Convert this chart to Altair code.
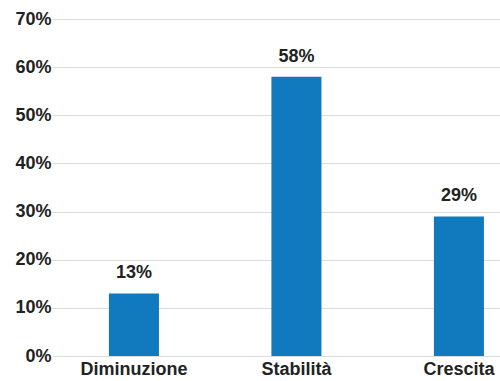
import altair as alt
import pandas as pd

# Share of responses per outlook category
categories = ["Diminuzione", "Stabilità", "Crescita"]
shares = [0.13, 0.58, 0.29]

df = pd.DataFrame({"categoria": categories, "quota": shares})

FONT = "Liberation Sans"
BAR_COLOR = "#117abf"
TEXT_COLOR = "#222222"
FONT_SIZE = 18

x = alt.X(
    "categoria:N",
    sort=categories,
    title=None,
    scale=alt.Scale(paddingInner=0.692, paddingOuter=0.2245, align=0.78),
    axis=alt.Axis(
        labelAngle=0,
        labelFont=FONT,
        labelFontSize=FONT_SIZE,
        labelFontWeight="bold",
        labelColor=TEXT_COLOR,
        labelPadding=4,
        domain=False,
        ticks=False,
        grid=False,
    ),
)

y = alt.Y(
    "quota:Q",
    title=None,
    scale=alt.Scale(domain=[0, 0.7], nice=False),
    axis=alt.Axis(
        values=[0, 0.1, 0.2, 0.3, 0.4, 0.5, 0.6, 0.7],
        format=".0%",
        labelFont=FONT,
        labelFontSize=FONT_SIZE,
        labelFontWeight="bold",
        labelColor=TEXT_COLOR,
        labelPadding=1,
        domain=False,
        ticks=False,
        grid=True,
        gridColor="#dcdcdc",
        gridWidth=1,
    ),
)

bars = alt.Chart(df).mark_bar(color=BAR_COLOR).encode(x=x, y=y)

labels = alt.Chart(df).mark_text(
    font=FONT,
    fontSize=FONT_SIZE,
    fontWeight="bold",
    color=TEXT_COLOR,
    baseline="bottom",
    dy=-11,
).encode(
    x=alt.X("categoria:N", sort=categories),
    y="quota:Q",
    text=alt.Text("quota:Q", format=".0%"),
)

chart = (
    alt.layer(bars, labels)
    .properties(
        width=448,
        height=337,
        autosize=alt.AutoSizeParams(type="none"),
        padding={"left": 52, "top": 19, "right": 0, "bottom": 25},
        background="white",
    )
    .configure_view(stroke=None)
)

chart.save("out.html", embed_options={"renderer": "svg", "actions": False})
